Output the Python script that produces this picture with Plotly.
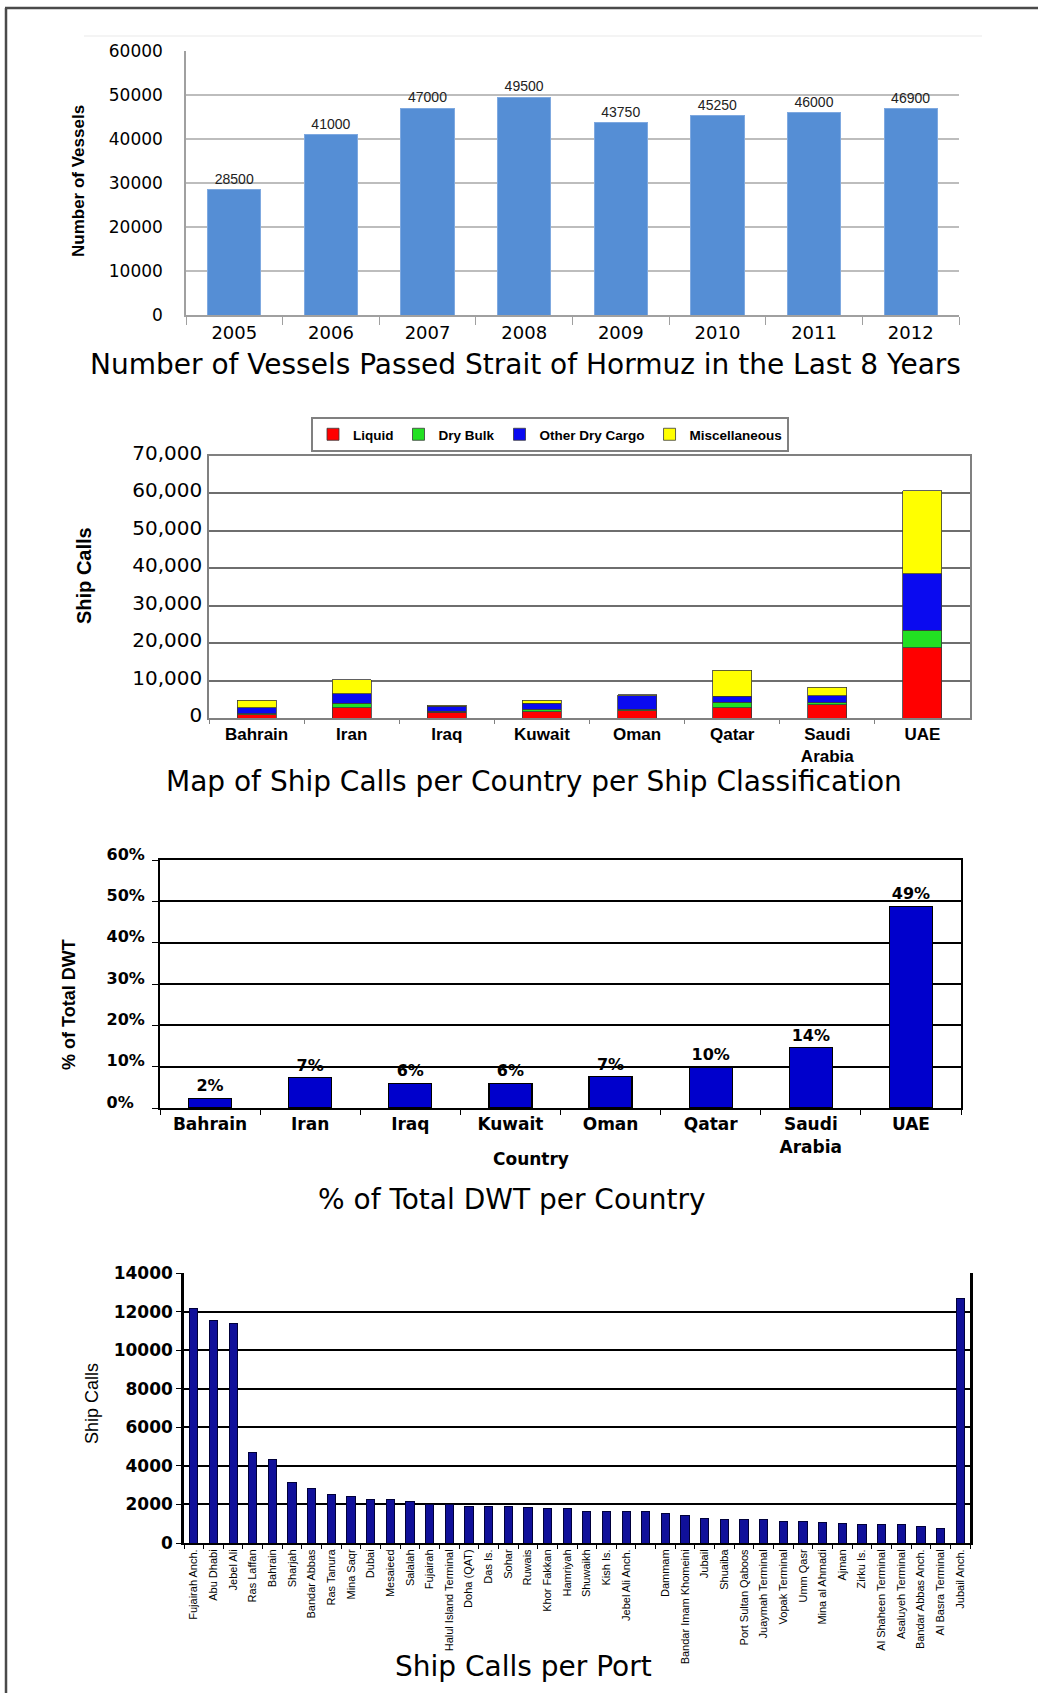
import plotly.graph_objects as go

W, H = 1038, 1693


def px(x):
    return x / W


def py(y):
    return 1 - y / H


# ---------------- data ----------------
years = ["2005", "2006", "2007", "2008", "2009", "2010", "2011", "2012"]
vessels = [28500, 41000, 47000, 49500, 43750, 45250, 46000, 46900]

countries = ["Bahrain", "Iran", "Iraq", "Kuwait", "Oman", "Qatar", "Saudi<br>Arabia", "UAE"]
liquid = [900, 2800, 1500, 1700, 1900, 2700, 3500, 18800]
dry_bulk = [300, 1100, 300, 600, 400, 1500, 600, 4700]
other_dry = [1500, 2600, 1300, 1600, 3700, 1600, 1800, 15000]
misc = [2100, 3750, 250, 800, 200, 7000, 2300, 22200]

dwt_pct = [2.3, 7.3, 6.0, 6.0, 7.6, 9.9, 14.6, 48.8]
dwt_labels = ["2%", "7%", "6%", "6%", "7%", "10%", "14%", "49%"]
dwt_ticks = [0, 10, 20, 30, 40, 50, 60]
dwt_ticktext = ["0%\u2007", "10%", "20%", "30%", "40%", "50%", "60%"]

ports = ["Fujairah Anch.", "Abu Dhabi", "Jebel Ali", "Ras Laffan", "Bahrain", "Sharjah",
         "Bandar Abbas", "Ras Tanura", "Mina Saqr", "Dubai", "Mesaieed", "Salalah",
         "Fujairah", "Halul Island Terminal", "Doha (QAT)", "Das Is.", "Sohar", "Ruwais",
         "Khor Fakkan", "Hamriyah", "Shuwaikh", "Kish Is.", "Jebel Ali Anch.", " ",
         "Dammam", "Bandar Imam Khomeini", "Jubail", "Shuaiba", "Port Sultan Qaboos",
         "Juaymah Terminal", "Vopak Terminal", "Umm Qasr", "Mina al Ahmadi", "Ajman",
         "Zirku Is.", "Al Shaheen Terminal", "Asaluyeh Terminal", "Bandar Abbas Anch.",
         "Al Basra Terminal", "Jubail Anch."]
port_calls = [12150, 11550, 11400, 4700, 4350, 3150, 2830, 2500, 2400, 2260, 2240, 2140,
              2020, 2000, 1880, 1880, 1880, 1830, 1790, 1770, 1640, 1640, 1630, 1630,
              1510, 1440, 1270, 1200, 1200, 1200, 1130, 1130, 1080, 1010, 960, 960,
              960, 870, 770, 12700]

# ---------------- fonts ----------------
WIDE = "DejaVu Sans"
NARROW = "Liberation Sans Narrow, Arial Narrow, Liberation Sans, sans-serif"

fig = go.Figure()

# Chart 1
fig.add_trace(go.Bar(
    x=years, y=vessels, xaxis="x", yaxis="y", width=0.55,
    marker=dict(color="#558ED5", line=dict(color="#7FA9E0", width=1)),
    text=vessels, textposition="outside", cliponaxis=False,
    textfont=dict(family=NARROW, size=14, color="#222"),
    showlegend=False, hoverinfo="skip"))

# Chart 2 (stacked)
for name, vals, col in [("Liquid", liquid, "#FF0000"), ("Dry Bulk", dry_bulk, "#22E022"),
                        ("Other Dry Cargo", other_dry, "#0A0AF0"), ("Miscellaneous", misc, "#FFFF00")]:
    fig.add_trace(go.Bar(
        x=countries, y=vals, name=name, xaxis="x2", yaxis="y2", width=0.41,
        marker=dict(color=col, line=dict(color="#3a3a3a", width=0.8)),
        showlegend=True, hoverinfo="skip"))

# Chart 3
fig.add_trace(go.Bar(
    x=countries, y=dwt_pct, xaxis="x3", yaxis="y3", width=0.43,
    marker=dict(color="#0000CC", line=dict(color="#000000", width=1.2)),
    text=dwt_labels, textposition="outside", cliponaxis=False,
    textfont=dict(family=WIDE, size=16, color="#000", weight="bold"),
    showlegend=False, hoverinfo="skip"))

# Chart 4
fig.add_trace(go.Bar(
    x=ports, y=port_calls, xaxis="x4", yaxis="y4", width=0.42,
    marker=dict(color="#10109A", line=dict(color="#00003A", width=1)),
    showlegend=False, hoverinfo="skip"))

cat_common = dict(type="category", range=[-0.5, 7.5], tickson="boundaries", ticks="outside", showgrid=False,
                  zeroline=False, fixedrange=True, automargin=False)

layout = dict(
    width=W, height=H, margin=dict(l=0, r=0, t=0, b=0, autoexpand=False),
    paper_bgcolor="white", plot_bgcolor="white",
    barmode="stack",
    font=dict(family=WIDE, color="#000"),
    # ---- chart 1
    xaxis=dict(domain=[px(186), px(959)], anchor="y", **cat_common,
               showline=True, linecolor="#A0A0A0", linewidth=2, ticklen=8, tickcolor="#A0A0A0",
               tickfont=dict(family=WIDE, size=18, color="#000")),
    yaxis=dict(domain=[py(315), py(51)], anchor="x", range=[0, 60000], dtick=10000, tickformat="d",
               showgrid=True, gridcolor="#BDBDBD", gridwidth=1.5, showline=True, linecolor="#A0A0A0",
               linewidth=1.5, zeroline=False, ticks="", ticklabelstandoff=18, automargin=False,
               tickfont=dict(family=WIDE, size=17, color="#000")),
    # ---- chart 2
    xaxis2=dict(domain=[px(209), px(970)], anchor="y2", **cat_common,
                showline=True, linecolor="#808080", linewidth=1.5, mirror=True, ticklen=4, tickcolor="#808080",
                tickfont=dict(family="Liberation Sans", size=17, color="#000", weight="bold")),
    yaxis2=dict(domain=[py(718), py(456)], anchor="x2", range=[0, 70000], dtick=10000, tickformat=",",
                showgrid=True, gridcolor="#6E6E6E", gridwidth=1.5, showline=True, linecolor="#808080",
                linewidth=1.5, mirror=True, zeroline=False, ticks="", ticklabelstandoff=1,
                ticklabelshift=-3, automargin=False, tickfont=dict(family=WIDE, size=20, color="#000")),
    # ---- chart 3
    xaxis3=dict(domain=[px(160), px(961)], anchor="y3", **cat_common,
                showline=True, linecolor="#000", linewidth=2, mirror=True, ticklen=5, tickcolor="#000",
                tickfont=dict(family=WIDE, size=17, color="#000", weight="bold")),
    yaxis3=dict(domain=[py(1108), py(860)], anchor="x3", range=[0, 60],
                tickvals=dwt_ticks, ticktext=dwt_ticktext,
                showgrid=True, gridcolor="#000", gridwidth=2, showline=True, linecolor="#000",
                linewidth=2, mirror=True, zeroline=False, ticks="outside", ticklen=6, tickcolor="#000",
                ticklabelshift=-6, ticklabelstandoff=4, automargin=False,
                tickfont=dict(family=WIDE, size=16, color="#000", weight="bold")),
    # ---- chart 4
    xaxis4=dict(domain=[px(184), px(970)], anchor="y4", type="category", range=[-0.5, 39.5],
                tickson="boundaries", ticks="outside", ticklen=4, tickcolor="#000", tickangle=-90,
                showgrid=False, zeroline=False, showline=True, linecolor="#000", linewidth=2,
                automargin=False, tickfont=dict(family=NARROW, size=11, color="#000")),
    yaxis4=dict(domain=[py(1543), py(1273)], anchor="x4", range=[0, 14000], dtick=2000, tickformat="d",
                showgrid=True, gridcolor="#000", gridwidth=1.5, showline=True, linecolor="#000",
                linewidth=2.5, mirror=True, zeroline=False, ticks="outside", ticklen=5, tickcolor="#000",
                automargin=False, tickfont=dict(family=WIDE, size=17, color="#000", weight="bold")),
    legend=dict(orientation="h", x=px(550), y=py(417), xanchor="center", yanchor="top",
                bordercolor="#808080", borderwidth=2, bgcolor="white", traceorder="normal",
                itemwidth=30, font=dict(family=NARROW, size=13.5, color="#000", weight="bold"),
                tracegroupgap=0),
)


def ann(text, x, y, size, family=WIDE, bold=False, angle=0):
    return dict(text=text, x=px(x), y=py(y), xref="paper", yref="paper", showarrow=False,
                xanchor="center", yanchor="middle", textangle=angle,
                font=dict(family=family, size=size, color="#000", weight="bold" if bold else "normal"))


layout["annotations"] = [
    ann("Number of Vessels", 78, 181, 17, NARROW, True, -90),
    ann("Number of Vessels Passed Strait of Hormuz in the Last 8 Years", 525, 365, 28),
    ann("Ship Calls", 84, 576, 20, NARROW, True, -90),
    ann("Map of Ship Calls per Country per Ship Classification", 534, 782, 28),
    ann("% of Total DWT", 69, 1005, 18, NARROW, True, -90),
    ann("Country", 531, 1159, 17, WIDE, True),
    ann("% of Total DWT per Country", 512, 1199, 28),
    ann("Ship Calls", 92, 1404, 18, NARROW, False, -90),
    ann("Ship Calls per Port", 523, 1666, 28),
]

layout["shapes"] = [
    dict(type="line", xref="paper", yref="paper", x0=px(6), x1=px(6), y0=0, y1=py(8),
         line=dict(color="#4a4a4a", width=2.5)),
    dict(type="line", xref="paper", yref="paper", x0=px(5), x1=1, y0=py(8), y1=py(8),
         line=dict(color="#4a4a4a", width=2.5)),
    dict(type="line", xref="paper", yref="paper", x0=px(84), x1=px(982), y0=py(36), y1=py(36),
         line=dict(color="#F0F0F0", width=1.5)),
]

fig.update_layout(**layout)
fig.write_html(
    "out.html",
    post_script="document.body.style.margin='0';document.body.style.padding='0';"
                "document.documentElement.style.margin='0';document.documentElement.style.overflow='hidden';")
